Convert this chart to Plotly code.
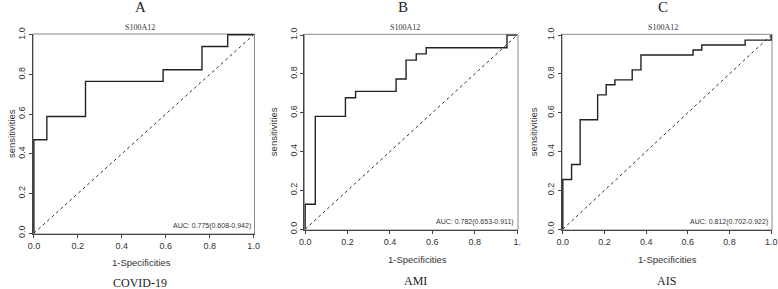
import plotly.graph_objects as go

W, H = 778, 289

# ---------------- data ----------------
panel_letters = ["A", "B", "C"]
panel_groups = ["COVID-19", "AMI", "AIS"]
marker_name = "S100A12"
auc_labels = ["AUC: 0.775(0.608-0.942)", "AUC: 0.782(0.653-0.911)", "AUC: 0.812(0.702-0.922)"]

# ROC corner points (1-specificity, sensitivity), drawn as vertical-then-horizontal steps
a_fpr = [0.0, 0.059, 0.235, 0.588, 0.765, 0.882, 1.0]
a_tpr = [0.0, 0.471, 0.588, 0.765, 0.824, 0.941, 1.0]

b_fpr = [0.0, 0.048, 0.190, 0.238, 0.429, 0.476, 0.524, 0.571, 0.952, 1.0]
b_tpr = [0.0, 0.129, 0.581, 0.677, 0.710, 0.774, 0.871, 0.903, 0.935, 1.0]

c_fpr = [0.0, 0.042, 0.083, 0.167, 0.208, 0.250, 0.333, 0.375, 0.625, 0.667, 0.875, 1.0, 1.0]
c_tpr = [0.0, 0.256, 0.333, 0.564, 0.692, 0.744, 0.769, 0.821, 0.897, 0.923, 0.949, 0.974, 1.0]

tick_vals = [0.0, 0.2, 0.4, 0.6, 0.8, 1.0]
tick_text = ["0.0", "0.2", "0.4", "0.6", "0.8", "1.0"]
tick_text_b = ["0.0", "0.2", "0.4", "0.6", "0.8", "1."]

# ---------------- layout geometry (pixels) ----------------
# plot boxes: (x0, x1, ytop, ybottom)
boxes = [(33.0, 254.5, 34.0, 234.0), (304.3, 518.0, 34.3, 230.0), (562.0, 772.0, 34.3, 230.0)]
letter_x = [140, 403, 663]
sub_x = [140, 405, 663]
xtitle_x = [141, 417, 667]
xtitle_y = [262, 259, 259]
group_x = [140, 416, 666]
group_y = [283, 281, 281]
ytitle_x = [11, 273, 533]

serif = "Liberation Serif, Times New Roman, serif"
sans = "Liberation Sans, Arial, sans-serif"

fig = go.Figure()
series = [(a_fpr, a_tpr), (b_fpr, b_tpr), (c_fpr, c_tpr)]
annotations = []
shapes = []
layout_axes = {}

for i, ((fx, ty), (x0, x1, yt, yb)) in enumerate(zip(series, boxes)):
    xa = "x" if i == 0 else f"x{i+1}"
    ya = "y" if i == 0 else f"y{i+1}"
    xkey = "xaxis" if i == 0 else f"xaxis{i+1}"
    ykey = "yaxis" if i == 0 else f"yaxis{i+1}"
    # diagonal reference
    fig.add_trace(go.Scatter(x=[0, 1], y=[0, 1], mode="lines", xaxis=xa, yaxis=ya,
                             line=dict(color="#333333", width=1, dash="3px,3px"),
                             showlegend=False, hoverinfo="skip"))
    # ROC step curve
    fig.add_trace(go.Scatter(x=fx, y=ty, mode="lines", xaxis=xa, yaxis=ya,
                             line=dict(color="#222222", width=1.4, shape="vh"),
                             showlegend=False))
    layout_axes[xkey] = dict(
        domain=[x0 / W, x1 / W], range=[-0.004, 1.004], anchor=ya, automargin=False,
        tickvals=tick_vals, ticktext=(tick_text_b if i == 1 else tick_text),
        ticks="outside", ticklen=3, tickwidth=1, tickcolor="#444444",
        showline=True, linecolor="#444444", linewidth=1,
        showgrid=False, zeroline=False,
        tickfont=dict(family=sans, size=9, color="#333333"),
    )
    layout_axes[ykey] = dict(
        domain=[1 - yb / H, 1 - yt / H], range=[-0.004, 1.004], anchor=xa, automargin=False,
        tickvals=tick_vals, ticktext=tick_text, tickangle=-90,
        ticks="outside", ticklen=3, tickwidth=1, tickcolor="#444444",
        showline=True, linecolor="#444444", linewidth=1,
        showgrid=False, zeroline=False,
        tickfont=dict(family=sans, size=9, color="#333333"),
    )
    # grey box around the plot region
    shapes.append(dict(type="rect", xref="paper", yref="paper",
                       x0=x0 / W, x1=x1 / W, y0=1 - yb / H, y1=1 - yt / H,
                       line=dict(color="#8a8a8a", width=1), layer="below"))
    # texts
    annotations.append(dict(x=letter_x[i] / W, y=1 - 7 / H, xref="paper", yref="paper",
                            text=panel_letters[i], showarrow=False, xanchor="center", yanchor="middle",
                            font=dict(family=serif, size=15, color="#222222")))
    annotations.append(dict(x=sub_x[i] / W, y=1 - 27.5 / H, xref="paper", yref="paper",
                            text=marker_name, showarrow=False, xanchor="center", yanchor="middle",
                            font=dict(family=serif, size=8, color="#333333")))
    annotations.append(dict(x=xtitle_x[i] / W, y=1 - xtitle_y[i] / H, xref="paper", yref="paper",
                            text="1-Specificities", showarrow=False, xanchor="center", yanchor="middle",
                            font=dict(family=sans, size=9.5, color="#333333")))
    annotations.append(dict(x=group_x[i] / W, y=1 - group_y[i] / H, xref="paper", yref="paper",
                            text=panel_groups[i], showarrow=False, xanchor="center", yanchor="middle",
                            font=dict(family=serif, size=12, color="#222222")))
    annotations.append(dict(x=ytitle_x[i] / W, y=1 - ((yt + yb) / 2) / H, xref="paper", yref="paper",
                            text="sensitivities", showarrow=False, textangle=-90,
                            xanchor="center", yanchor="middle",
                            font=dict(family=sans, size=9.5, color="#333333")))
    annotations.append(dict(x=0.995, y=0.035, xref=xa, yref=ya,
                            text=auc_labels[i], showarrow=False, xanchor="right", yanchor="middle",
                            font=dict(family=sans, size=7, color="#333333")))

fig.update_layout(
    width=W, height=H, margin=dict(l=0, r=0, t=0, b=0),
    paper_bgcolor="white", plot_bgcolor="white",
    annotations=annotations, shapes=shapes, showlegend=False,
    **layout_axes,
)

fig.write_html("out.html", config={"displayModeBar": False},
               post_script="document.body.style.margin='0';document.body.style.overflow='hidden';")
